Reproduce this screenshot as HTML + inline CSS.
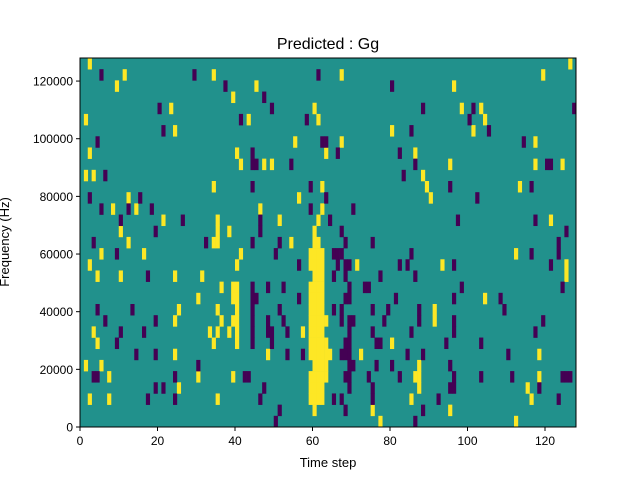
<!DOCTYPE html>
<html><head><meta charset="utf-8"><style>
body{margin:0;background:#fff;}
svg text{font-family:"Liberation Sans","DejaVu Sans",sans-serif;}
</style></head><body>
<svg id="chart" width="640" height="480" xmlns="http://www.w3.org/2000/svg">
<rect width="640" height="480" fill="#fff"/>
<text x="328" y="49" font-size="16" text-anchor="middle">Predicted : Gg</text>
<g id="cells"></g>
<g id="axes"></g>
<text x="328" y="467" font-size="13" text-anchor="middle">Time step</text>
<text transform="translate(9,242) rotate(-90)" font-size="13" text-anchor="middle">Frequency (Hz)</text>
</svg>
<script>
const nSteps = 128;
const nBins = 33;
const freqMax = 128000;
const xTicks = [0,20,40,60,80,100,120];
const yTicks = [0,20000,40000,60000,80000,100000,120000];
const yTickLabels = ["0","20000","40000","60000","80000","100000","120000"];
// rows listed from top (highest frequency bin) to bottom
const yellowRows = [
[2,126],[11,34,67,119],[9,45,96],[39],[23,60,98,103],[1,43,61,104],[24,80,101],[55,67,117],
[2,40,63,86],[41,47,49,95,117,124],[1,3,88],[34,62,89,113],[12,56,90],[8,14,46,62],
[21,35,51,61,121],[10,35,38,60],[12,34,35,54,60,61],
[5,16,41,59,60,61,62,112],[2,40,59,60,61,62,71,93,125],[4,10,24,31,60,61,62,125],
[36,39,40,59,60,61,62],[30,39,40,59,60,61,62,104],[25,35,40,59,60,61,62,91],
[24,36,39,40,59,60,61,62,63,91],[3,33,35,38,40,57,59,60,61,62],[4,34,40,59,60,61,62,63,80],
[24,48,59,60,61,62,63,64,72,118],[1,5,60,61,62,63,87],[7,30,39,59,60,61,62,63,86,87,118],
[25,59,60,61,62,87,115],[2,7,35,59,60,61,62,85,116],[60,75,95],[77,112]
];
const darkRows = [
[],[5,29,61],[37,80],[47],[20,49,88,101,127],[41,58,100],[21,85,105],[4,62,63,114],
[44,66,82],[44,45,54,86,120,121],[6,83],[44,59,95,116],[2,15,63,102],[5,12,18,59,70],
[10,26,46,64,97,117],[19,46,67,125],[3,32,44,51,68,75,123],
[9,50,65,66,67,85,116,123],[56,66,68,69,82,84,96,121],[17,65,68,77,86],
[44,48,52,69,73,74,98,124],[44,45,56,68,69,81,96,108],[4,13,44,51,65,67,75,79,87,109],
[6,19,44,48,52,67,69,70,78,87,96,119],[10,16,44,48,49,53,69,75,85,96,117],
[9,44,49,68,69,76,77,94,103],[14,19,53,57,67,68,69,84,88,110],[30,69,70,76,80,95],
[3,4,24,42,43,68,69,74,82,96,103,111,124,125,126],[19,21,47,69,75,95,96,118],
[17,24,46,65,67,75,92,123],[51,68,88],[50,86]
];
const L=80,R=576,T=58,B=427;
const xs = t => L + t*(R-L)/nSteps;
const ys = f => B - f*(B-T)/freqMax;
const NS="http://www.w3.org/2000/svg";
const cells=document.getElementById('cells');
function mk(tag,attrs,parent){const e=document.createElementNS(NS,tag);for(const k in attrs)e.setAttribute(k,attrs[k]);parent.appendChild(e);return e;}
const bg=mk('rect',{x:L,y:T,width:R-L,height:B-T,fill:'#21918c'},cells);


const binHz=freqMax/nBins;
function drawRows(rows,color,name){
  rows.forEach((cols,ri)=>{
    const bin=nBins-1-ri;
    const y0=ys((bin+1)*binHz), y1=ys(bin*binHz);
    cols.forEach(t=>{
      const x0=xs(t), x1=xs(t+1);
      const r=mk('rect',{x:x0.toFixed(2),y:y0.toFixed(2),width:(x1-x0+0.3).toFixed(2),height:(y1-y0+0.3).toFixed(2),fill:color},cells);
      
      
    });
  });
}
drawRows(yellowRows,'#fde725','heatmap-cell-high');
drawRows(darkRows,'#440154','heatmap-cell-low');
const axes=document.getElementById('axes');
const frame=mk('rect',{x:L,y:T,width:R-L,height:B-T,fill:'none',stroke:'#000','stroke-width':1},axes);


xTicks.forEach(v=>{
  const x=xs(v);
  mk('line',{x1:x,y1:B,x2:x,y2:B+4,stroke:'#000'},axes);
  const tx=mk('text',{x:x,y:B+18,'font-size':12,'text-anchor':'middle'},axes);
  tx.textContent=v;
  
  
});
yTicks.forEach((v,i)=>{
  const y=ys(v);
  mk('line',{x1:L-4,y1:y,x2:L,y2:y,stroke:'#000'},axes);
  const tx=mk('text',{x:L-7,y:y+4.5,'font-size':12,'text-anchor':'end'},axes);
  tx.textContent=yTickLabels[i];
  
  
});
</script>
</body></html>
